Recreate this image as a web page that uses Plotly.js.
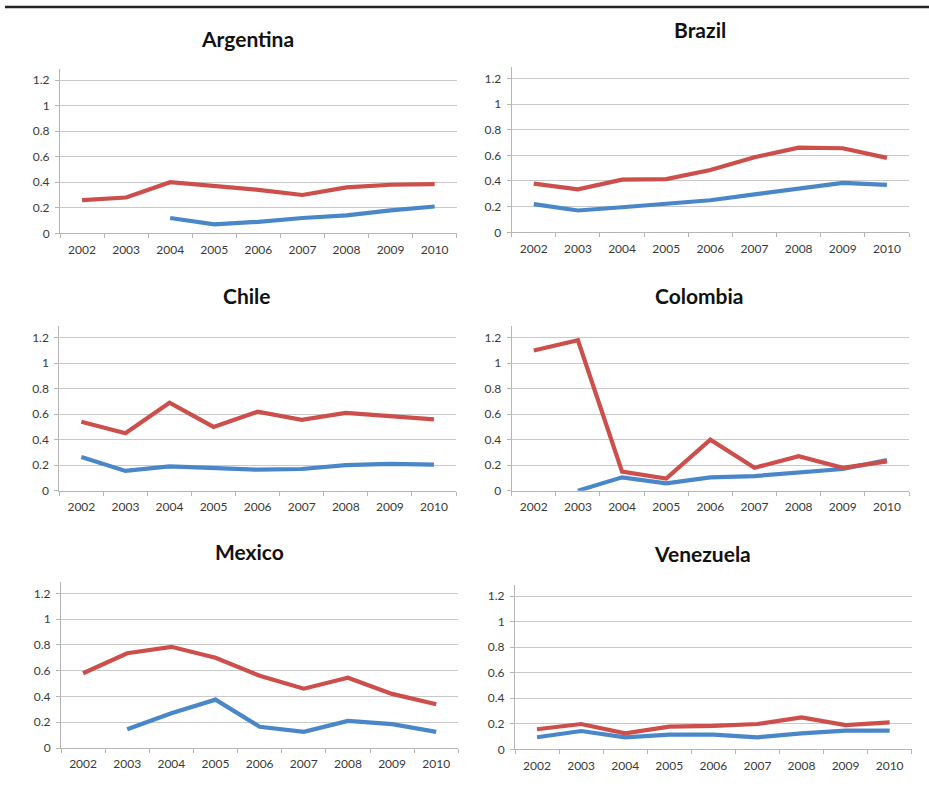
<!DOCTYPE html>
<html>
<head>
<meta charset="utf-8">
<script src="https://cdn.plot.ly/plotly-3.0.1.min.js"></script>
<style>html,body{margin:0;padding:0;background:#fff;}#chart{width:929px;height:796px;}</style>
</head>
<body>
<div id="chart"></div>
<script>
const years = ['2002','2003','2004','2005','2006','2007','2008','2009','2010'];
const yTicks = [0, 0.2, 0.4, 0.6, 0.8, 1, 1.2];
const yTickLabels = ['0', '0.2', '0.4', '0.6', '0.8', '1', '1.2'];
const countries = ['Argentina', 'Brazil', 'Chile', 'Colombia', 'Mexico', 'Venezuela'];

const argentinaRed  = [0.26, 0.28, 0.40, 0.37, 0.34, 0.30, 0.36, 0.38, 0.385];
const argentinaBlue = [null, null, 0.12, 0.07, 0.09, 0.12, 0.14, 0.18, 0.21];
const brazilRed     = [0.38, 0.335, 0.41, 0.415, 0.485, 0.585, 0.66, 0.655, 0.58];
const brazilBlue    = [0.22, 0.17, 0.195, 0.22, 0.25, 0.295, 0.34, 0.385, 0.37];
const chileRed      = [0.54, 0.45, 0.69, 0.50, 0.62, 0.555, 0.61, 0.585, 0.56];
const chileBlue     = [0.265, 0.155, 0.19, 0.18, 0.165, 0.17, 0.20, 0.21, 0.205];
const colombiaRed   = [1.10, 1.18, 0.15, 0.095, 0.40, 0.18, 0.27, 0.18, 0.23];
const colombiaBlue  = [null, 0.0, 0.105, 0.058, 0.105, 0.115, 0.14, 0.17, 0.24];
const mexicoRed     = [0.58, 0.735, 0.785, 0.70, 0.56, 0.46, 0.545, 0.42, 0.34];
const mexicoBlue    = [null, 0.145, 0.27, 0.375, 0.165, 0.125, 0.21, 0.185, 0.125];
const venezuelaRed  = [0.157, 0.198, 0.125, 0.177, 0.183, 0.198, 0.25, 0.19, 0.21];
const venezuelaBlue = [0.094, 0.143, 0.094, 0.115, 0.115, 0.094, 0.125, 0.146, 0.146];

const redSeries  = [argentinaRed, brazilRed, chileRed, colombiaRed, mexicoRed, venezuelaRed];
const blueSeries = [argentinaBlue, brazilBlue, chileBlue, colombiaBlue, mexicoBlue, venezuelaBlue];

// panel geometry in pixels: [xLeft, xRight, yTop(axis top), yZero]
const W = 929, H = 796;
const panels = [
  [60, 456.7, 68.5, 233.3],
  [511.7, 909, 66.8, 232.3],
  [59.3, 456, 326.2, 490.7],
  [511.7, 909, 326.2, 490.7],
  [61, 458.3, 581.7, 748],
  [515, 911.7, 584.5, 749.3]
];
const titlePos = [[248, 38], [700, 29], [246.7, 295], [699, 295], [249, 551.7], [702.7, 553.3]];

const RED = '#cc4f4c', BLUE = '#4a87c9';
const FONT = 'Lato, "Open Sans", sans-serif';
const data = [];
const layout = {
  width: W, height: H,
  margin: {l: 0, r: 0, t: 0, b: 0},
  paper_bgcolor: '#ffffff', plot_bgcolor: '#ffffff',
  showlegend: false,
  font: {family: FONT, size: 12, color: '#3a3a3a'},
  annotations: [],
  shapes: [{type: 'line', xref: 'paper', yref: 'paper', x0: 5 / W, x1: 1, y0: 1 - 7 / H, y1: 1 - 7 / H,
            line: {color: '#222222', width: 2.5}}]
};

countries.forEach((c, i) => {
  const n = i + 1;
  const sfx = n === 1 ? '' : String(n);
  const p = panels[i];
  [blueSeries[i], redSeries[i]].forEach((vals, k) => {
    data.push({
      type: 'scatter', mode: 'lines', x: years, y: vals, xaxis: 'x' + sfx, yaxis: 'y' + sfx,
      name: c + (k === 0 ? ' blue' : ' red'),
      line: {color: k === 0 ? BLUE : RED, width: 4.2},
      connectgaps: false, hoverinfo: 'skip'
    });
  });
  layout['xaxis' + sfx] = {
    domain: [p[0] / W, p[1] / W], anchor: 'y' + sfx,
    type: 'category', range: [-0.5, 8.5], tickson: 'boundaries',
    ticks: 'outside', ticklen: 4, tickcolor: '#b5b5b5', showgrid: false,
    showline: true, linecolor: '#b5b5b5', linewidth: 1, zeroline: false,
    tickfont: {family: FONT, size: 12, color: '#3a3a3a'},
    ticklabelstandoff: 5, fixedrange: true
  };
  layout['yaxis' + sfx] = {
    domain: [1 - p[3] / H, 1 - p[2] / H], anchor: 'x' + sfx,
    range: [0, 1.29], tickmode: 'array', tickvals: yTicks, ticktext: yTickLabels,
    ticks: 'outside', ticklen: 4, tickcolor: '#b5b5b5',
    showgrid: true, gridcolor: '#c9c9c9', gridwidth: 1,
    showline: true, linecolor: '#b5b5b5', linewidth: 1, zeroline: false,
    tickfont: {family: FONT, size: 12, color: '#3a3a3a'},
    ticklabelstandoff: 3, fixedrange: true
  };
  layout.annotations.push({
    text: '<b>' + c + '</b>', xref: 'paper', yref: 'paper',
    x: titlePos[i][0] / W, y: 1 - titlePos[i][1] / H, xanchor: 'center', yanchor: 'middle',
    showarrow: false, font: {family: FONT, size: 21, color: '#111111'}
  });
});

Plotly.newPlot('chart', data, layout, {displayModeBar: false, staticPlot: true});
</script>
</body>
</html>
